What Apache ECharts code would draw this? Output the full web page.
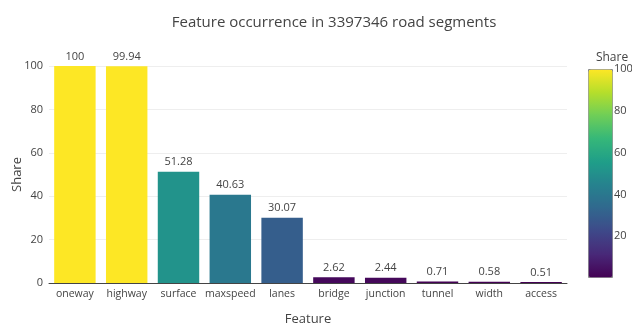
<!DOCTYPE html>
<html>
<head>
<meta charset="utf-8">
<script src="https://cdn.jsdelivr.net/npm/echarts@6/dist/echarts.min.js"></script>
<style>
  html, body { margin: 0; padding: 0; background: #fff; }
  #chart { width: 632px; height: 323px; }
</style>
</head>
<body>
<div id="chart"></div>
<script>
// Share of road segments carrying each tag
const features = ['oneway', 'highway', 'surface', 'maxspeed', 'lanes', 'bridge', 'junction', 'tunnel', 'width', 'access'];
const shares = [100, 99.94, 51.28, 40.63, 30.07, 2.62, 2.44, 0.71, 0.58, 0.51];
const yTicks = [0, 20, 40, 60, 80, 100];
const colorbarTicks = [20, 40, 60, 80, 100];
const viridis = ['#440154', '#482878', '#3e4989', '#31688e', '#26828e',
                 '#1f9e89', '#35b779', '#6ece58', '#b5de2b', '#fde725'];

const font = '"Open Sans", "Noto Sans", sans-serif';
const textColor = '#444';
const shareMin = Math.min(...shares);
const shareMax = Math.max(...shares);

const chart = echarts.init(document.getElementById('chart'), null, { renderer: 'canvas' });
chart.setOption({
  animation: false,
  textStyle: { fontFamily: font, color: textColor },
  title: {
    text: 'Feature occurrence in 3397346 road segments',
    left: 329, top: 10, textAlign: 'center',
    textStyle: { fontFamily: font, fontSize: 15, fontWeight: 'normal', color: textColor }
  },
  grid: [
    { left: 49, right: 65, top: 66, bottom: 40, outerBoundsMode: 'none', containLabel: false },
    { left: 588, width: 24, top: 69, height: 208, outerBoundsMode: 'none', containLabel: false }
  ],
  xAxis: [
    {
      type: 'category', data: features, gridIndex: 0,
      name: 'Feature', nameLocation: 'middle', nameGap: 30, nameMoveOverlap: false,
      nameTextStyle: { fontFamily: font, fontSize: 13, color: textColor },
      axisLine: { lineStyle: { color: '#444', width: 1 } },
      axisTick: { show: false },
      axisLabel: { fontFamily: font, fontSize: 10.5, color: textColor, margin: 6, interval: 0 }
    },
    { type: 'category', data: ['c'], gridIndex: 1, show: false }
  ],
  yAxis: [
    {
      type: 'value', gridIndex: 0, min: 0, max: 100, interval: 20,
      name: 'Share', nameLocation: 'middle', nameGap: 25, nameMoveOverlap: false,
      nameTextStyle: { fontFamily: font, fontSize: 13, color: textColor },
      axisLine: { show: false },
      axisTick: { show: false },
      axisLabel: {
        fontFamily: font, fontSize: 11, color: textColor, margin: 6,
        customValues: yTicks
      },
      splitLine: { lineStyle: { color: '#eeeeee', width: 1 } }
    },
    {
      type: 'value', gridIndex: 1, min: shareMin, max: shareMax, position: 'right',
      name: 'Share', nameLocation: 'end', nameGap: 5,
      nameTextStyle: { fontFamily: font, fontSize: 12, color: textColor, align: 'center' },
      axisLine: { show: false }, axisTick: { show: false }, splitLine: { show: false },
      axisLabel: { fontFamily: font, fontSize: 11, color: textColor, margin: 2, customValues: colorbarTicks }
    }
  ],
  visualMap: {
    type: 'continuous',
    seriesIndex: 0, dimension: 1,
    min: shareMin, max: shareMax,
    inRange: { color: viridis },
    orient: 'vertical',
    left: 588, top: 69,
    itemWidth: 24, itemHeight: 208,
    calculable: false, text: null, showLabel: false,
    padding: 0,
    borderColor: '#888', borderWidth: 1
  },
  series: [
    {
      type: 'bar', xAxisIndex: 0, yAxisIndex: 0,
      data: shares,
      barCategoryGap: '20%',
      label: {
        show: true, position: 'top', distance: 4,
        fontFamily: font, fontSize: 11, color: textColor,
        formatter: p => String(p.value)
      }
    }
  ]
});
</script>
</body>
</html>
